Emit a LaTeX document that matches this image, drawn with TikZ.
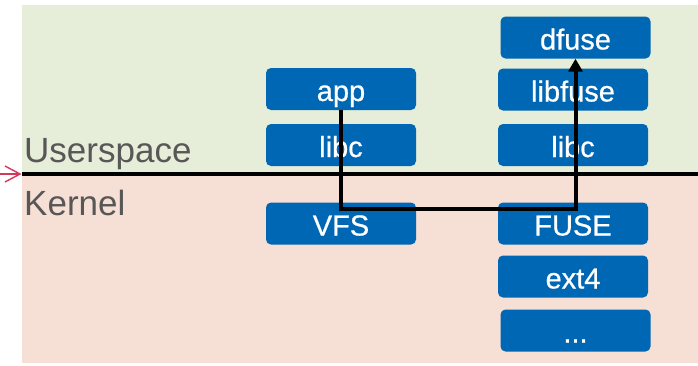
\documentclass[tikz,border=0pt]{standalone}
\usepackage{fontspec}
\setmainfont{Liberation Sans}
\newfontfamily\layerfont[FakeBold=0.6]{Liberation Sans}
\usepackage{tikz}
\usetikzlibrary{arrows.meta}

\definecolor{userbg}{HTML}{E6EDD8}
\definecolor{kernbg}{HTML}{F6DFD4}
\definecolor{layerblue}{HTML}{0067B4}
\definecolor{labelgray}{HTML}{575757}
\definecolor{markred}{HTML}{D2385A}

\begin{document}
\begin{tikzpicture}[x=1pt,y=-1pt,
  layer/.style={rectangle,rounded corners=5pt,fill=layerblue,text=white,
    minimum width=150pt,minimum height=42pt,inner sep=0pt,
    text height=24pt,text depth=0pt,
    font=\layerfont\fontsize{29}{31}\selectfont},
  space/.style={anchor=base west,text=labelgray,inner sep=0pt,
    font=\fontsize{35}{37}\selectfont},
  flow/.style={line width=4pt,-{Triangle[length=13pt,width=14pt]}}]
\useasboundingbox (0,0) rectangle (698,365);
\fill [userbg] (22,5) rectangle (698,174);
\fill [kernbg] (22,174) rectangle (698,363);
\node [space] (user) at (24,162) {Userspace};
\node [space] (kern) at (24,215) {Kernel};
\coordinate (markfrom) at (0,174);
\coordinate (bndl) at (22,174);
\coordinate (bndr) at (698,174);
\draw [markred,line width=1.4pt] (markfrom) -- (20,174);
\draw [markred,line width=1.4pt] (5,166) -- (20,174) -- (5,182);
\draw [line width=4pt] (bndl) -- (bndr);
% app side
\node [layer] (app) at (341,89) {app};
\node [layer] (libca) at (341,145) {libc};
\node [layer] (vfs) at (341,223.5) {VFS};
% daemon side
\node [layer] (dfuse) at (575.5,37.5) {dfuse};
\node [layer] (libfuse) at (573,89.5) {libfuse};
\node [layer] (libcb) at (573,145) {libc};
\node [layer] (fuse) at (573,223.5) {FUSE};
\node [layer] (ext) at (573,276.5) {ext4};
\node [layer] (more) at (575.5,330.5) {...};
\draw [flow] (app.south) -- ++(0,99) -| (dfuse.south);
\end{tikzpicture}
\end{document}
